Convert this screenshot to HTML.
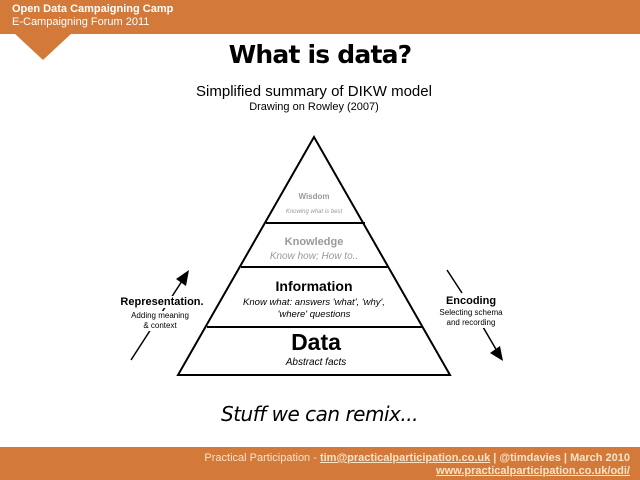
<!DOCTYPE html>
<html><head><style>
body{margin:0;width:640px;height:480px;overflow:hidden;background:#fff;font-family:"Liberation Sans",sans-serif;position:relative}
.a{position:absolute;white-space:nowrap}
.c{transform:translateX(-50%);text-align:center}
.w{background:#fff}
</style></head><body>
<div class="a" style="left:0;top:0;width:640px;height:34px;background:#d37a3b"></div>
<svg class="a" style="left:0;top:0" width="640" height="480">
<polygon points="14,33 72,33 43,60" fill="#d37a3b"/>
<rect x="0" y="447" width="640" height="33" fill="#d37a3b"/>
<g stroke="#000" stroke-width="2" fill="none">
<polygon points="314,137 178,375 450,375"/>
<line x1="266" y1="223" x2="365" y2="223"/>
<line x1="241" y1="267" x2="388" y2="267"/>
<line x1="207" y1="327" x2="423" y2="327"/>
<line x1="131" y1="360" x2="182" y2="281" stroke-width="1.5"/>
<line x1="447" y1="270" x2="462" y2="293" stroke-width="1.5"/>
<line x1="483" y1="327" x2="497" y2="351" stroke-width="1.5"/>
</g>
<polygon points="189,270 176,279 186,286" fill="#000"/>
<polygon points="503,361 490,353 500,346" fill="#000"/>
</svg>
<div class="a" style="left:12px;top:3px;color:#fff;font-weight:bold;font-size:11px">Open Data Campaigning Camp</div>
<div class="a" style="left:12px;top:16px;color:#fff;font-size:11px">E-Campaigning Forum 2011</div>
<div class="a c" style="left:320px;top:40px;font-size:25px;font-weight:bold;font-family:'DejaVu Sans',sans-serif;letter-spacing:-0.8px">What is data?</div>
<div class="a c" style="left:314px;top:83px;font-size:15px">Simplified summary of DIKW model</div>
<div class="a c" style="left:314px;top:101px;font-size:11px">Drawing on Rowley (2007)</div>
<div class="a c" style="left:314px;top:192px;font-size:8px;color:#999;font-weight:bold">Wisdom</div>
<div class="a c" style="left:314px;top:209px;font-size:6px;color:#999;font-style:italic">Knowing what is best</div>
<div class="a c" style="left:314px;top:236px;font-size:11px;color:#999;font-weight:bold">Knowledge</div>
<div class="a c" style="left:314px;top:251px;font-size:10px;color:#999;font-style:italic">Know how; How to..</div>
<div class="a c" style="left:314px;top:278px;font-size:14px;font-weight:bold">Information</div>
<div class="a c" style="left:314px;top:297px;font-size:9.5px;font-style:italic;line-height:12px">Know what: answers 'what', 'why',<br>'where' questions</div>
<div class="a c" style="left:316px;top:329px;font-size:23px;font-weight:bold">Data</div>
<div class="a c" style="left:316px;top:357px;font-size:10px;font-style:italic">Abstract facts</div>
<div class="a c w" style="left:162px;top:296px;font-size:11px;font-weight:bold;padding:0 2px">Representation.</div>
<div class="a c w" style="left:160px;top:311px;font-size:8px;line-height:10px;padding:0 2px">Adding meaning<br>&amp; context</div>
<div class="a c w" style="left:471px;top:295px;font-size:11px;font-weight:bold">Encoding</div>
<div class="a c w" style="left:471px;top:308px;font-size:8px;line-height:10px;padding:0 2px">Selecting schema<br>and recording</div>
<div class="a" style="left:221px;top:402px;font-size:20px;font-style:italic;font-family:'DejaVu Sans',sans-serif;letter-spacing:-0.5px">Stuff we can remix...</div>
<div class="a" style="right:10px;top:452px;font-size:11px;color:#f7e4c8;text-align:right;line-height:13px"><span>Practical Participation - </span><b style="text-decoration:underline">tim@practicalparticipation.co.uk</b><b> | @timdavies | March 2010</b><br><b style="text-decoration:underline">www.practicalparticipation.co.uk/odi/</b></div>
</body></html>
